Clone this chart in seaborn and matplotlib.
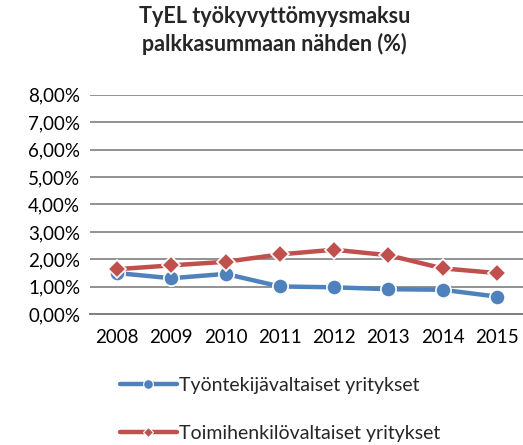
import matplotlib
matplotlib.use('Agg')
import matplotlib.pyplot as plt
from matplotlib.lines import Line2D
from matplotlib.ticker import FuncFormatter
import seaborn as sns
import pandas as pd

years = ['2008', '2009', '2010', '2011', '2012', '2013', '2014', '2015']
tyontekija = [1.50, 1.31, 1.47, 1.01, 0.98, 0.91, 0.89, 0.64]
toimihenkilo = [1.64, 1.78, 1.91, 2.18, 2.35, 2.15, 1.67, 1.50]
label_blue = 'Työntekijävaltaiset yritykset'
label_red = 'Toimihenkilövaltaiset yritykset'

df = pd.DataFrame({'pos': range(len(years)), 'blue': tyontekija, 'red': toimihenkilo})

sns.set_style('white')
plt.rcParams['font.family'] = ['Lato', 'DejaVu Sans']

blue = '#4F81BD'
red = '#C0504D'

fig = plt.figure(figsize=(5.23, 4.45), dpi=100)
ax = fig.add_axes([0.172, 0.294, 0.83, 0.493])

sns.lineplot(data=df, x='pos', y='blue', ax=ax, color=blue, lw=3.2, marker='o',
             markersize=11, markeredgecolor='white', markeredgewidth=1.2)
sns.lineplot(data=df, x='pos', y='red', ax=ax, color=red, lw=3.2, marker='D',
             markersize=9, markeredgecolor='white', markeredgewidth=1.2)

ax.set_xlim(-0.5, len(years) - 0.5)
ax.set_ylim(0, 8)
ax.set_yticks(range(0, 9))
ax.yaxis.set_major_formatter(FuncFormatter(lambda v, p: f'{v:.2f}%'.replace('.', ',')))
ax.set_xticks(range(len(years)))
ax.set_xticklabels(years)
ax.grid(axis='y', color='#7f7f7f', lw=1.2)
ax.set_axisbelow(True)
for s in ['top', 'right', 'left']:
    ax.spines[s].set_visible(False)
ax.spines['bottom'].set_color('#7f7f7f')
ax.spines['bottom'].set_linewidth(1.4)
ax.tick_params(axis='both', length=0, labelsize=13.5, colors='black')
ax.tick_params(axis='x', pad=11)
ax.tick_params(axis='y', pad=7)
ax.set_xlabel('')
ax.set_ylabel('')

fig.text(0.525, 0.931, 'TyEL työkyvyttömyysmaksu\npalkkasummaan nähden (%)',
         ha='center', va='center', fontsize=15.5, fontweight='bold', linespacing=1.3)

handles = [
    Line2D([], [], color=blue, lw=3.2, marker='o', markersize=7,
           markeredgecolor='white', markeredgewidth=0.8),
    Line2D([], [], color=red, lw=3.2, marker='D', markersize=5.5,
           markeredgecolor='white', markeredgewidth=0.8),
]
fig.legend(handles, [label_blue, label_red], loc='upper left',
           bbox_to_anchor=(0.215, 0.171), frameon=False, fontsize=14,
           handlelength=2.9, handletextpad=0.1, labelspacing=1.6,
           borderaxespad=0)

fig.savefig('out.png', dpi=100)
